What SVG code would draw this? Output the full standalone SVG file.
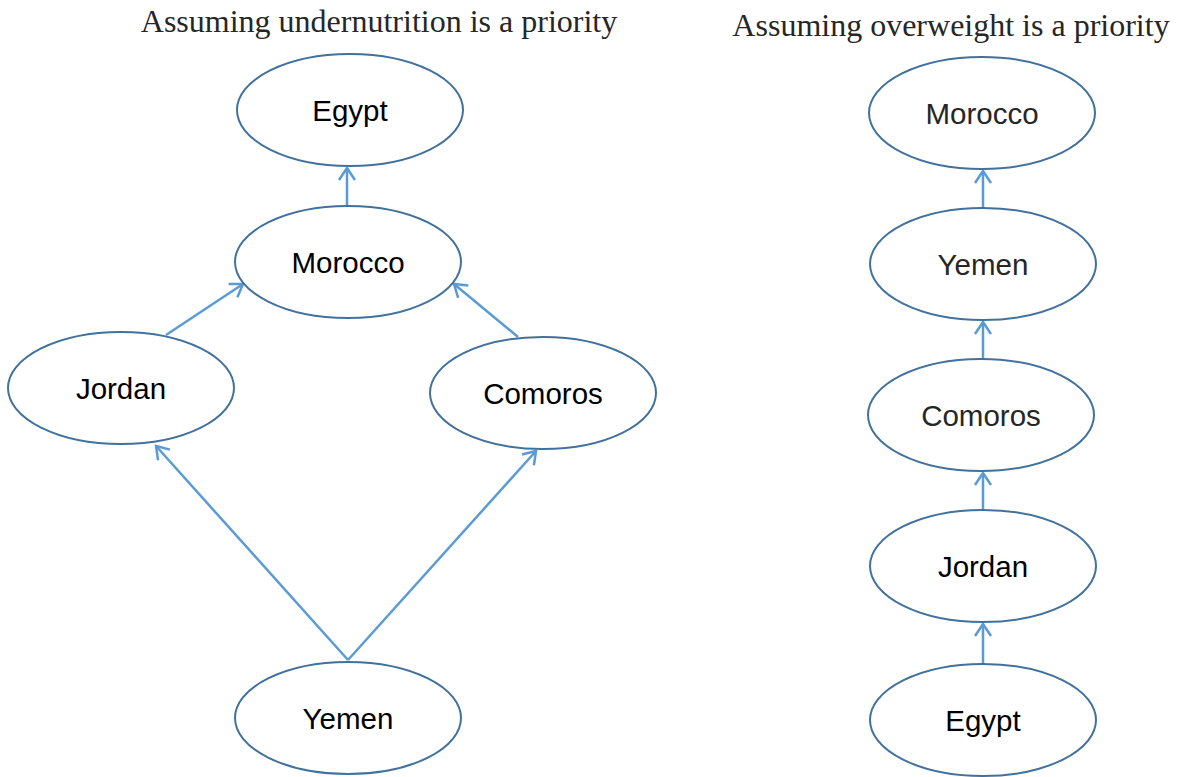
<svg xmlns="http://www.w3.org/2000/svg" width="1178" height="777" viewBox="0 0 1178 777">
<style>
.node ellipse{fill:#fff;stroke:#41719C;stroke-width:2}
.node text{font-family:"Liberation Sans",Arial,sans-serif;font-size:29.5px;text-anchor:middle;dominant-baseline:central;fill:#000}
.node text.g{fill:#262626}
.title{font-family:"Liberation Serif","Times New Roman",serif;font-size:32px;text-anchor:middle;fill:#262626}
#connectors line{stroke:#5B9BD5;stroke-width:2.5;marker-end:url(#arr)}
</style>
<defs>
<marker id="arr" viewBox="-14 -10 16 20" markerWidth="16" markerHeight="20" refX="0" refY="0" orient="auto" markerUnits="userSpaceOnUse">
<path d="M-12,-8 L0,0 L-12,8" fill="none" stroke="#5B9BD5" stroke-width="2.5"/>
</marker>
</defs>
<rect width="1178" height="777" fill="#fff"/>
<text class="title" x="379" y="32">Assuming undernutrition is a priority</text>
<text class="title" x="951" y="36">Assuming overweight is a priority</text>
<g id="connectors">
<line x1="347" y1="205" x2="347" y2="168"/>
<line x1="166" y1="335" x2="243" y2="284"/>
<line x1="518" y1="337" x2="454" y2="284"/>
<line x1="348" y1="660" x2="156" y2="446"/>
<line x1="348" y1="660" x2="536" y2="451"/>
<line x1="983" y1="208" x2="983" y2="171"/>
<line x1="983" y1="359" x2="983" y2="322"/>
<line x1="983" y1="510" x2="983" y2="473"/>
<line x1="983" y1="663" x2="983" y2="624"/>
</g>
<g id="l-egypt" class="node"><ellipse cx="350" cy="110" rx="113" ry="56"/><text x="350" y="110">Egypt</text></g>
<g id="l-morocco" class="node"><ellipse cx="348" cy="262" rx="113" ry="56"/><text x="348" y="262">Morocco</text></g>
<g id="l-jordan" class="node"><ellipse cx="121" cy="388" rx="113" ry="56"/><text x="121" y="388">Jordan</text></g>
<g id="l-comoros" class="node"><ellipse cx="543" cy="393" rx="113" ry="56"/><text x="543" y="393">Comoros</text></g>
<g id="l-yemen" class="node"><ellipse cx="348" cy="718" rx="113" ry="56"/><text x="348" y="718">Yemen</text></g>
<g id="r-morocco" class="node"><ellipse cx="982" cy="113" rx="113" ry="56"/><text class="g" x="982" y="113">Morocco</text></g>
<g id="r-yemen" class="node"><ellipse cx="983" cy="264" rx="113" ry="56"/><text class="g" x="983" y="264">Yemen</text></g>
<g id="r-comoros" class="node"><ellipse cx="981" cy="415" rx="113" ry="56"/><text class="g" x="981" y="415">Comoros</text></g>
<g id="r-jordan" class="node"><ellipse cx="983" cy="566" rx="113" ry="56"/><text x="983" y="566">Jordan</text></g>
<g id="r-egypt" class="node"><ellipse cx="983" cy="720" rx="113" ry="56"/><text x="983" y="720">Egypt</text></g>
</svg>
